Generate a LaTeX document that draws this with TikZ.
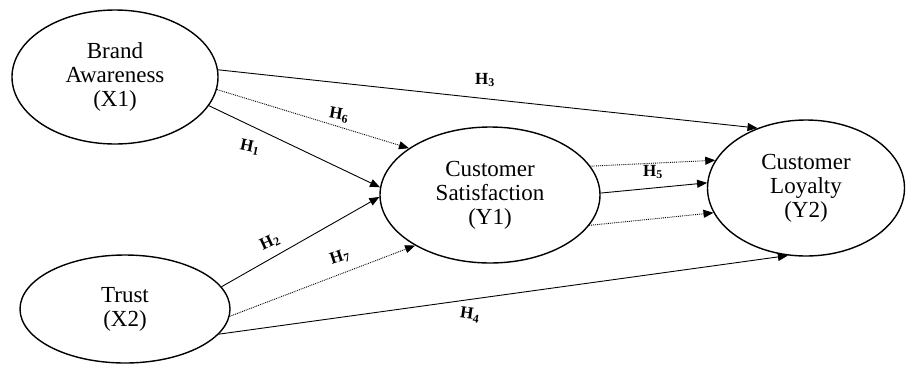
\documentclass[tikz,border=0pt]{standalone}
\usepackage{fontspec}
\setmainfont{Liberation Serif}
\usetikzlibrary{arrows.meta,shapes.geometric}
\begin{document}
\begin{tikzpicture}[x=1pt,y=-1pt,
  latent/.style={draw,line width=1.4pt,ellipse,inner sep=0pt,align=center,
    font=\fontsize{23}{24}\selectfont},
  path/.style={line width=0.9pt,-{Triangle[length=10pt,width=8pt]}},
  dotpath/.style={path,densely dotted},
  hlab/.style={font=\fontsize{17}{18}\selectfont\bfseries,inner sep=0pt}]
\useasboundingbox[fill=white] (0,0) rectangle (907,365);
\node[latent,minimum width=206pt,minimum height=134pt] (ba) at (115,77) {Brand\\Awareness\\(X1)};
\node[latent,minimum width=210pt,minimum height=108pt] (tr) at (125,309) {Trust\\(X2)};
\node[latent,minimum width=220pt,minimum height=136pt] (cs) at (490,195) {Customer\\Satisfaction\\(Y1)};
\node[latent,minimum width=197pt,minimum height=136pt] (cl) at (806,188) {Customer\\Loyalty\\(Y2)};
% paths
\draw[path] (ba.4) -- (cl.129);
\draw[dotpath] (ba.-7) -- (cs.150);
\draw[path] (ba.-17) -- (cs.176);
\draw[path] (tr.13) -- (cs.181);
\draw[dotpath] (tr.-4) -- (cs.214);
\draw[path] (tr.-15) -- (cl.255);
\draw[dotpath] (cs.16) -- (cl.163);
\draw[path] (cs.1) -- (cl.177);
\draw[dotpath] (cs.-17) -- (cl.195);
% labels
\node[hlab] (h3) at (485,80) {H$_{\mathbf{3}}$};
\node[hlab,rotate=-10] (h6) at (339,115) {H$_{\mathbf{6}}$};
\node[hlab,rotate=-12] (h1) at (250,147) {H$_{\mathbf{1}}$};
\node[hlab,rotate=25] (h2) at (270,242) {H$_{\mathbf{2}}$};
\node[hlab,rotate=18] (h7) at (340,257) {H$_{\mathbf{7}}$};
\node[hlab,rotate=-8] (h4) at (470,315) {H$_{\mathbf{4}}$};
\node[hlab] (h5) at (653,172) {H$_{\mathbf{5}}$};
\end{tikzpicture}
\end{document}
